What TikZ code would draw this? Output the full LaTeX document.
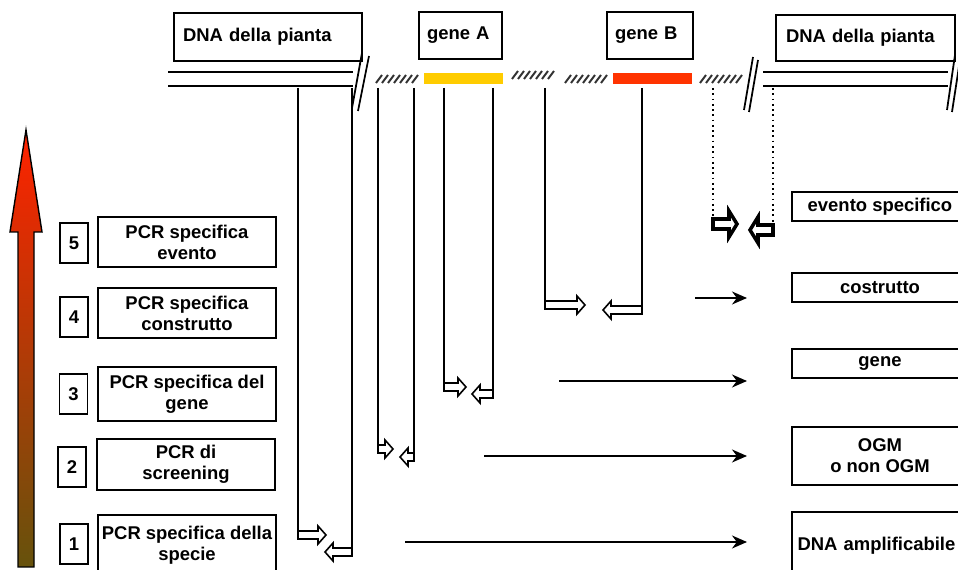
\documentclass[tikz,border=0pt]{standalone}
\usepackage{fontspec}
\setmainfont{Liberation Sans}
\usepackage{tikz}
\usetikzlibrary{arrows.meta}

\definecolor{geneAcol}{RGB}{255,204,0}
\definecolor{geneBcol}{RGB}{255,51,0}
\definecolor{arrtop}{RGB}{255,34,0}
\definecolor{arrbot}{RGB}{102,82,12}

\begin{document}
\begin{tikzpicture}[x=0.02cm,y=-0.02cm,
    box/.style={draw,line width=1pt,inner sep=0pt,
      font=\bfseries\fontsize{10.5}{12}\selectfont},
    nbox/.style={box,minimum width=0.56cm,minimum height=0.8cm},
    pcrbox/.style={box,minimum width=3.56cm,align=center},
    resbox/.style={box,minimum width=3.52cm,align=center},
    hatch/.style={line width=1.1pt,black!80},
    primer/.style={line width=1pt},
    tip/.style={draw,fill=white,line width=0.9pt,line join=miter}]
          \clip (0,0) rectangle (958,570);
          %\draw[very thin,lightgray] (0,0) grid[step=50] (958,570);

          % plant DNA and the insert
          \draw[line width=1.1pt] (168,72)--(353,72) (168,86)--(353,86);
          \draw[line width=1.1pt] (763,72)--(948,72) (763,86)--(948,86);
          \draw[line width=1pt] (362,53)--(352,108) (369,56)--(358,111);
          \draw[line width=1pt] (753,57)--(744,110) (758,60)--(749,112);
          \draw[line width=1pt] (955,55)--(947,110) (960,60)--(952,112);
          \foreach \a/\y in {376/79,512/75,565/79,700/79}
            \foreach \h in {0,6,...,36}
              \draw[hatch] (\a+\h,\y+4)--(\a+\h+6,\y-4);
          \fill[geneAcol] (424,73) rectangle (503,84);
          \fill[geneBcol] (613,73) rectangle (692,84);

          \node[box,minimum width=3.76cm,minimum height=0.96cm,text width=3.4cm,
            align=left] (dnaL) at (268,37) {DNA della pianta};
          \node[box,minimum width=1.66cm,minimum height=0.94cm,text width=1.34cm,
            align=left] (geneA) at (460.5,35.5) {gene A};
          \node[box,minimum width=1.72cm,minimum height=0.94cm,text width=1.4cm,
            align=left] (geneB) at (650,35.5) {gene B};
          \node[box,minimum width=3.58cm,minimum height=0.92cm,text width=3.18cm,
            align=left] (dnaR) at (865.5,38) {DNA della pianta};

          % primer pairs
          \foreach \fx/\fy/\ft/\rx/\ry/\rt in {298/535/326/352/552/325,
              378/449/393/414/457/400,444/387/466/493/394/472,
              545/305/585/642/310/603}{
            \draw[primer] (\fx,88)--(\fx,\fy+4);
            \draw[primer] (\rx,88)--(\rx,\ry+4);
            \draw[tip] (\fx,\fy-4)--(\ft-8,\fy-4)--(\ft-8,\fy-9)--(\ft,\fy)
              --(\ft-8,\fy+9)--(\ft-8,\fy+4)--(\fx,\fy+4)--cycle;
            \draw[tip] (\rx,\ry-4)--(\rt+8,\ry-4)--(\rt+8,\ry-9)--(\rt,\ry)
              --(\rt+8,\ry+9)--(\rt+8,\ry+4)--(\rx,\ry+4)--cycle;
          }
          % junction primers
          \draw[primer,dotted] (713,88)--(713,219);
          \draw[primer,dotted] (773,88)--(773,225);
          \draw[tip,line width=2pt] (713,219)--(729,219)--(729,211)--(737,224)
            --(729,237)--(729,229)--(713,229)--cycle;
          \draw[tip,line width=2pt] (773,225)--(758,225)--(758,217)--(750,230)
            --(758,243)--(758,235)--(773,235)--cycle;

          % increasing specificity
          \shade[top color=arrtop,bottom color=arrbot,draw=black,line width=0.8pt]
            (18,567)--(18,232)--(10,232)--(26,130)--(42,232)--(34,232)
            --(34,567)--cycle;

          \node[nbox] (n5) at (74,243) {5};
          \node[nbox] (n4) at (74,317) {4};
          \node[nbox] (n3) at (73.5,394) {3};
          \node[nbox] (n2) at (72,467) {2};
          \node[nbox] (n1) at (74,544) {1};
          \node[pcrbox,minimum height=1cm] (evento) at (187,242)
            {PCR specifica\\evento};
          \node[pcrbox,minimum height=1cm] (costr) at (187,313)
            {PCR specifica\\construtto};
          \node[pcrbox,minimum height=1.08cm] (genesp) at (187,394)
            {PCR specifica del\\gene};
          \node[pcrbox,minimum height=1.02cm] (screen) at (186,464.5)
            {PCR di\\screening};
          \node[pcrbox,minimum height=1.2cm] (specie) at (187,545)
            {PCR specifica della\\specie};

          % what each PCR tells
          \node[resbox,minimum height=0.58cm] (rEvento) at (880,206.5)
            {evento specifico};
          \node[resbox,minimum height=0.58cm] (rCostr) at (880,287.5) {costrutto};
          \node[resbox,minimum height=0.58cm] (rGene) at (880,363.5) {gene};
          \node[resbox,minimum height=1.16cm] (rOgm) at (880,456)
            {OGM\\o non OGM};
          \node[resbox,minimum height=1.36cm,text width=3.3cm,align=left]
            (rDna) at (880,546) {DNA amplificabile};

          \coordinate (c4) at (695,298);
          \coordinate (c3) at (559,381);
          \coordinate (c2) at (484,456);
          \coordinate (c1) at (405,542);
          \foreach \c in {c4,c3,c2,c1}
            \draw[-{Stealth[length=0.3cm,width=0.26cm]},line width=1.1pt]
              (\c)--(\c-|747,0);
        \end{tikzpicture}
\end{document}
